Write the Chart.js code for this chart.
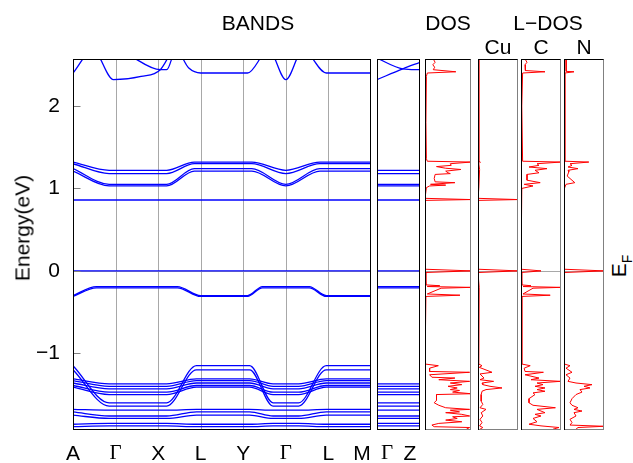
<!DOCTYPE html>
<html lang="en">
<head>
<meta charset="UTF-8">
<title>Bands and DOS</title>
<style>
    body {
        margin: 0;
        background: #fff;
        font-family: "Liberation Sans", Arial, sans-serif;
    }
    #wrap {
        position: relative;
        width: 633px;
        height: 463px;
        overflow: hidden;
    }
    canvas {
        position: absolute;
    }
    .lbl {
        position: absolute;
        font-size: 21px;
        color: #000;
        white-space: nowrap;
        line-height: 1;
        transform: translate(-50%, -50%);
    }
    .greek {
        font-family: "Liberation Serif", "DejaVu Serif", serif;
    }
    .lbl sub {
        font-size: 14px;
    }
</style>
</head>
<body>
<div id="wrap">
    <canvas id="bands"></canvas>
    <canvas id="gz"></canvas>
    <canvas id="dos"></canvas>
    <canvas id="cu"></canvas>
    <canvas id="c"></canvas>
    <canvas id="n"></canvas>

    <div class="lbl" style="left:258px;top:22px">BANDS</div>
    <div class="lbl" style="left:448px;top:22px">DOS</div>
    <div class="lbl" style="left:548px;top:22px">L−DOS</div>
    <div class="lbl" style="left:498px;top:46px">Cu</div>
    <div class="lbl" style="left:541px;top:46px">C</div>
    <div class="lbl" style="left:584px;top:46px">N</div>
    <div class="lbl" style="left:22px;top:228px;transform:translate(-50%,-50%) rotate(-90deg)">Energy(eV)</div>
    <div class="lbl" style="left:621px;top:266px;transform:translate(-50%,-50%) rotate(-90deg)">E<sub>F</sub></div>
</div>

<script src="https://cdn.jsdelivr.net/npm/chart.js"></script>
<script>
// ---- data ----
const kLabels = ['A', 'Γ', 'X', 'L', 'Y', 'Γ', 'L', 'M'];
const gzLabels = ['Γ', 'Z'];
const yTicks = [-1, 0, 1, 2];
const yMin = -1.93, yMax = 2.57;

// band energies (eV) at L-type points (A, L, Y, M) and Γ-type points (Γ, X)
const condL = [1.32, 1.30, 1.24, 1.21];
const condG = [1.22, 1.18, 1.05, 1.03];
const valL = [-0.30, -0.31];
const valG = [-0.19, -0.205];
const deepL = [-1.15, -1.20, -1.31, -1.33, -1.36, -1.39, -1.41, -1.68, -1.71, -1.75, -1.86, -1.89];
const deepG = [-1.60, -1.64, -1.37, -1.40, -1.43, -1.47, -1.50, -1.69, -1.76, -1.79, -1.85, -1.88];
const flatBands = [0.86, 0.0];

// where along the path each group sits at its L / Γ value
const condK = [0, 0.85, 2.2, 2.85, 4.2, 5, 5.8, 7];
const condP = ['L', 'G', 'G', 'L', 'L', 'G', 'L', 'L'];
const valK = [0, 0.55, 2.45, 3, 4.1, 4.45, 5.55, 5.95, 7];
const valP = ['L', 'G', 'G', 'L', 'L', 'G', 'G', 'L', 'L'];
const deepK = [0, 0.85, 2.2, 2.9, 4.15, 4.7, 5.3, 5.95, 7];
const deepP = ['L', 'G', 'G', 'L', 'L', 'G', 'G', 'L', 'L'];

// upper conduction bands (k, E)
const topA = [[0, 2.40], [0.47, 2.68], [0.95, 2.32], [1.6, 2.36], [2.05, 2.44], [2.35, 2.70]];
const topB = [[1.3, 2.62], [2.05, 2.44], [2.2, 2.44], [2.42, 2.68], [2.72, 2.46], [3, 2.40], [4.1, 2.40],
              [4.6, 2.68], [5, 2.32], [5.4, 2.68], [5.95, 2.40], [7, 2.40]];
const gzTopA = [[0, 2.58], [0.6, 2.45], [1, 2.44]];
const gzTopB = [[0, 2.32], [0.6, 2.45], [1, 2.53]];

// densities of states, [E, value as fraction of panel width]
const totalDos = [[2.57,0.18],[2.53,0.22],[2.50,0.17],[2.47,0.21],[2.44,0.18],[2.415,0.67],[2.40,0.05],[2.36,0.03],
    [1.80,0.02],[1.36,0.03],[1.33,0.05],[1.32,1.0],[1.30,0.55],[1.28,0.57],[1.265,0.25],[1.245,0.45],[1.23,0.78],
    [1.21,0.45],[1.19,0.5],[1.18,0.55],[1.17,0.22],[1.12,0.2],[1.08,0.22],[1.07,0.65],[1.05,0.12],[1.04,0.45],
    [1.03,0.1],[1.01,0.03],[0.88,0.0],[0.865,1.0],[0.855,0.0],[0.02,0.0],[0.0,1.0],[-0.02,0.0],[-0.17,0.02],
    [-0.18,0.32],[-0.19,0.05],[-0.20,1.0],[-0.21,0.35],[-0.28,0.05],[-0.295,0.76],[-0.31,0.02],[-1.13,0.0],
    [-1.15,0.29],[-1.18,0.1],[-1.22,0.1],[-1.23,0.97],[-1.26,0.1],[-1.29,0.15],[-1.30,0.65],[-1.32,0.3],
    [-1.34,0.97],[-1.36,0.55],[-1.38,0.8],[-1.40,0.5],[-1.42,0.7],[-1.44,0.55],[-1.45,0.75],[-1.47,0.6],
    [-1.49,1.0],[-1.50,0.25],[-1.57,0.25],[-1.60,0.2],[-1.63,0.3],[-1.66,0.45],[-1.68,0.97],[-1.69,0.55],
    [-1.71,0.75],[-1.72,0.45],[-1.74,0.8],[-1.76,0.97],[-1.77,0.6],[-1.79,0.7],[-1.81,0.45],[-1.83,0.8],
    [-1.85,0.3],[-1.87,0.15],[-1.89,0.2],[-1.90,0.97],[-1.92,0.9]];
const cuDos = [[2.57,0.02],[1.33,0.02],[1.32,0.06],[1.30,0.02],[1.23,0.04],[1.0,0.02],[0.88,0.0],[0.865,1.0],
    [0.855,0.0],[0.02,0.0],[0.0,1.0],[-0.02,0.0],[-0.2,0.03],[-1.13,0.02],[-1.15,0.10],[-1.17,0.03],[-1.23,0.35],
    [-1.25,0.05],[-1.30,0.15],[-1.32,0.05],[-1.34,0.39],[-1.36,0.1],[-1.38,0.12],[-1.40,0.3],[-1.42,0.6],
    [-1.44,0.2],[-1.46,0.1],[-1.50,0.08],[-1.58,0.08],[-1.62,0.12],[-1.66,0.05],[-1.68,0.2],[-1.72,0.08],
    [-1.76,0.12],[-1.80,0.05],[-1.84,0.1],[-1.88,0.04],[-1.90,0.12],[-1.92,0.05]];
const cDos = [[2.57,0.1],[2.53,0.15],[2.50,0.1],[2.46,0.12],[2.43,0.1],[2.415,0.6],[2.40,0.04],[2.0,0.02],
    [1.33,0.04],[1.32,1.0],[1.30,0.4],[1.28,0.45],[1.26,0.2],[1.24,0.65],[1.22,0.35],[1.19,0.45],[1.17,0.15],
    [1.10,0.15],[1.07,0.48],[1.05,0.08],[1.03,0.3],[1.0,0.02],[0.02,0.0],[0.0,0.5],[-0.02,0.0],[-0.17,0.02],
    [-0.18,0.25],[-0.19,0.05],[-0.20,1.0],[-0.21,0.3],[-0.28,0.05],[-0.295,0.73],[-0.31,0.02],[-1.13,0.02],
    [-1.15,0.23],[-1.18,0.08],[-1.22,0.1],[-1.23,0.56],[-1.26,0.1],[-1.30,0.45],[-1.32,0.25],[-1.34,0.98],
    [-1.36,0.4],[-1.38,0.55],[-1.40,0.35],[-1.42,0.6],[-1.44,0.4],[-1.46,0.6],[-1.48,0.3],[-1.50,0.35],
    [-1.55,0.2],[-1.60,0.2],[-1.63,0.3],[-1.66,0.86],[-1.68,0.4],[-1.70,0.5],[-1.72,0.6],[-1.74,0.35],
    [-1.76,0.5],[-1.79,0.3],[-1.83,0.4],[-1.86,0.2],[-1.88,0.5],[-1.90,0.95],[-1.92,0.8]];
const nDos = [[2.57,0.05],[2.45,0.05],[2.42,0.06],[2.415,0.25],[2.40,0.02],[1.33,0.02],[1.32,0.62],[1.30,0.15],
    [1.28,0.2],[1.26,0.1],[1.24,0.35],[1.22,0.1],[1.20,0.12],[1.15,0.08],[1.07,0.27],[1.05,0.05],[1.0,0.01],
    [0.02,0.0],[0.0,1.0],[-0.02,0.0],[-1.13,0.01],[-1.15,0.15],[-1.18,0.05],[-1.23,0.2],[-1.26,0.05],
    [-1.30,0.15],[-1.34,0.1],[-1.36,0.3],[-1.38,0.7],[-1.40,0.5],[-1.42,0.65],[-1.44,0.4],[-1.47,0.45],
    [-1.50,0.3],[-1.55,0.2],[-1.60,0.15],[-1.63,0.2],[-1.66,0.35],[-1.68,0.25],[-1.70,0.45],[-1.72,0.25],
    [-1.76,0.3],[-1.80,0.15],[-1.84,0.2],[-1.87,0.15],[-1.885,1.0],[-1.90,0.35],[-1.92,0.3]];

// ---- drawing ----
const BLUE = '#0000ff';
const RED = '#ff0000';
const GRID = '#a8a8a8';
Chart.defaults.font.family = '"Liberation Sans", Arial, sans-serif';

const framePlugin = {
    id: 'frame',
    beforeDatasetsDraw(chart, args, opts) {
        const { ctx, chartArea: a, scales } = chart;
        ctx.save();
        ctx.lineWidth = 1;
        ctx.strokeStyle = GRID;
        (opts.vlines || []).forEach(k => {
            const x = Math.round(scales.x.getPixelForValue(k)) + 0.5;
            ctx.beginPath(); ctx.moveTo(x, a.top); ctx.lineTo(x, a.bottom); ctx.stroke();
        });
        const y0 = Math.round(scales.y.getPixelForValue(0)) + 0.5;
        ctx.beginPath(); ctx.moveTo(a.left, y0); ctx.lineTo(a.right, y0); ctx.stroke();
        ctx.restore();
    },
    afterDraw(chart, args, opts) {
        const { ctx, chartArea: a, scales } = chart;
        const l = Math.round(a.left) + 0.5, r = Math.round(a.right) - 0.5;
        const t = Math.round(a.top) + 0.5, b = Math.round(a.bottom) - 0.5;
        ctx.save();
        ctx.lineWidth = 1;
        if (opts.innerTicks) {
            ctx.strokeStyle = '#808080';
            yTicks.forEach(v => {
                const y = Math.round(scales.y.getPixelForValue(v)) + 0.5;
                ctx.beginPath(); ctx.moveTo(l, y); ctx.lineTo(l + 7, y); ctx.stroke();
            });
        }
        const edge = (x1, y1, x2, y2, c) => {
            ctx.strokeStyle = c;
            ctx.beginPath(); ctx.moveTo(x1, y1); ctx.lineTo(x2, y2); ctx.stroke();
        };
        const [ct, cr, cb, cl] = opts.colors;
        edge(l - 0.5, t, r + 0.5, t, ct);
        edge(r, t, r, b + 0.5, cr);
        edge(l - 0.5, b, r + 0.5, b, cb);
        edge(l, t, l, b + 0.5, cl);
        ctx.restore();
    }
};

function bandLine(points) {
    return {
        data: points,
        showLine: true,
        borderColor: BLUE,
        borderWidth: 1.3,
        pointRadius: 0,
        cubicInterpolationMode: 'monotone'
    };
}
function dosLine(pairs) {
    return {
        data: pairs.map(p => ({ x: p[1], y: p[0] })),
        showLine: true,
        borderColor: RED,
        borderWidth: 1,
        pointRadius: 0,
        tension: 0
    };
}
function pathPoints(eL, eG, ks, pat) {
    return ks.map((k, i) => ({ x: k, y: pat[i] === 'L' ? eL : eG }));
}

// panel boxes on the page: [left, right]
const TOP = 59, BOTTOM = 430;

function makePanel(id, left, right, xMax, datasets, colors) {
    const cv = document.getElementById(id);
    cv.width = right - left + 2;
    cv.height = BOTTOM - TOP + 2;
    cv.style.left = (left - 1) + 'px';
    cv.style.top = (TOP - 1) + 'px';
    return new Chart(cv, {
        type: 'scatter',
        data: { datasets },
        options: {
            responsive: false,
            animation: false,
            devicePixelRatio: 1,
            layout: { padding: 1 },
            plugins: { legend: { display: false }, tooltip: { enabled: false }, frame: { colors } },
            scales: {
                x: { display: false, min: 0, max: xMax },
                y: { display: false, min: yMin, max: yMax }
            }
        },
        plugins: [framePlugin]
    });
}

// main band structure
const bandSets = [];
bandSets.push(bandLine(topA.map(p => ({ x: p[0], y: p[1] }))));
bandSets.push(bandLine(topB.map(p => ({ x: p[0], y: p[1] }))));
condL.forEach((e, i) => bandSets.push(bandLine(pathPoints(e, condG[i], condK, condP))));
flatBands.forEach(e => bandSets.push(bandLine([{ x: 0, y: e }, { x: 7, y: e }])));
valL.forEach((e, i) => bandSets.push(bandLine(pathPoints(e, valG[i], valK, valP))));
deepL.forEach((e, i) => bandSets.push(bandLine(pathPoints(e, deepG[i], deepK, deepP))));

const bcv = document.getElementById('bands');
bcv.width = 373;
bcv.height = 463;
bcv.style.left = '0px';
bcv.style.top = '0px';
const bandsChart = new Chart(bcv, {
    type: 'scatter',
    data: { datasets: bandSets },
    options: {
        responsive: false,
        animation: false,
        devicePixelRatio: 1,
        layout: { padding: { top: TOP, right: 2, bottom: 463 - BOTTOM, left: 0 } },
        plugins: {
            legend: { display: false },
            tooltip: { enabled: false },
            frame: { colors: ['#000', '#000', '#000', '#000'], vlines: [1, 2, 3, 4, 5, 6], innerTicks: true }
        },
        scales: {
            x: { display: false, min: 0, max: kLabels.length - 1 },
            y: {
                min: yMin,
                max: yMax,
                afterFit: s => { s.width = 73; },
                afterBuildTicks: s => { s.ticks = yTicks.map(v => ({ value: v })); },
                border: { display: false },
                grid: { drawOnChartArea: false, drawTicks: false },
                ticks: {
                    padding: 13,
                    color: '#000',
                    font: { size: 21 },
                    callback: v => v < 0 ? '−' + Math.abs(v) : String(v)
                }
            }
        }
    },
    plugins: [framePlugin]
});

// Γ-Z segment
const gzSets = [];
gzSets.push(bandLine(gzTopA.map(p => ({ x: p[0], y: p[1] }))));
gzSets.push(bandLine(gzTopB.map(p => ({ x: p[0], y: p[1] }))));
[...condG, ...flatBands, ...valG, ...deepG].forEach(e =>
    gzSets.push(bandLine([{ x: 0, y: e }, { x: 1, y: e }])));
const gzChart = makePanel('gz', 377, 420, 1, gzSets, ['#000', '#000', '#000', '#000']);

const dosColors = ['#000', '#808080', '#808080', '#000'];
makePanel('dos', 425, 471, 1, [dosLine(totalDos)], dosColors);
makePanel('cu', 478, 518, 1, [dosLine(cuDos)], dosColors);
makePanel('c', 521, 561, 1, [dosLine(cDos)], dosColors);
makePanel('n', 564, 604, 1, [dosLine(nDos)], dosColors);

// k-point labels under the band panels
const wrap = document.getElementById('wrap');
function kLabel(text, x) {
    const d = document.createElement('div');
    d.className = 'lbl' + (text === 'Γ' ? ' greek' : '');
    d.style.left = x + 'px';
    d.style.top = '452px';
    d.textContent = text;
    wrap.appendChild(d);
}
kLabels.forEach((t, i) => {
    let x = bandsChart.scales.x.getPixelForValue(i);
    if (i === kLabels.length - 1) x -= 9;   // M sits left of the panel edge
    kLabel(t, x);
});
gzLabels.forEach((t, i) => {
    const x = 376 + gzChart.scales.x.getPixelForValue(i) + (i === 0 ? 10 : -10);
    kLabel(t, x);
});
</script>
</body>
</html>
